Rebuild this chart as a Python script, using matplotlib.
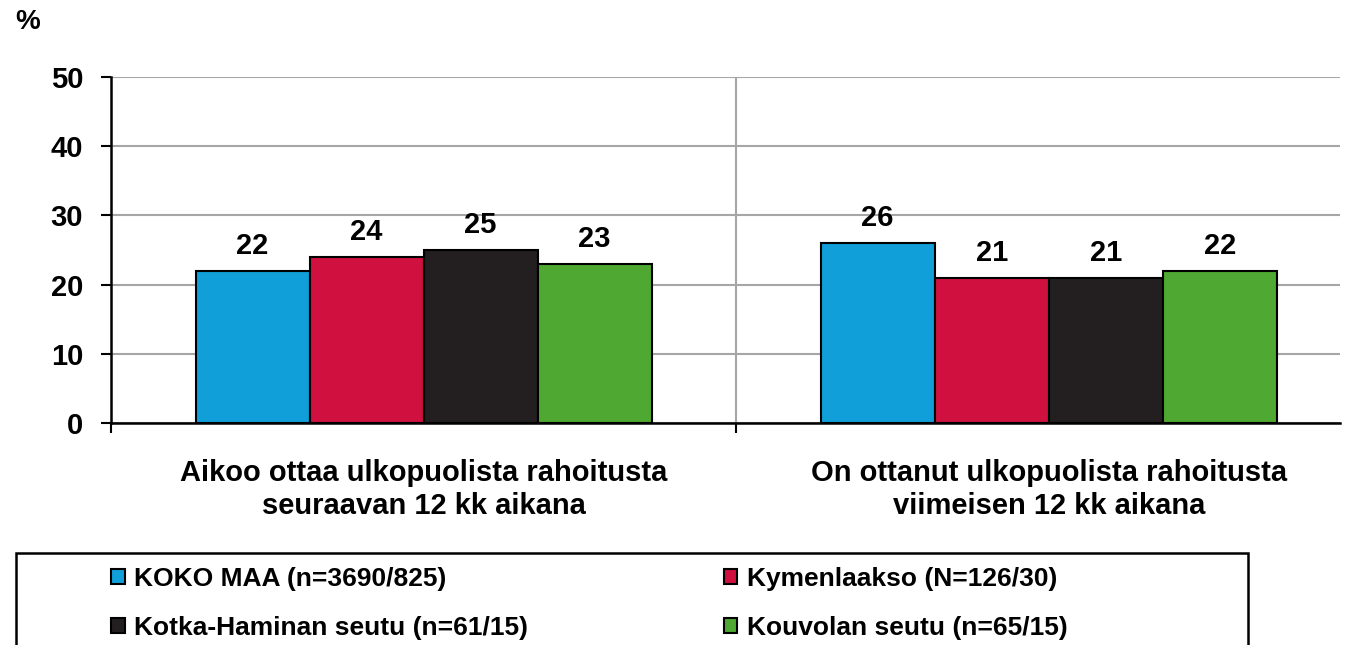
import matplotlib.pyplot as plt
import matplotlib.patches as mpatches
import numpy as np

plt.rcParams['font.family'] = ['Liberation Sans', 'DejaVu Sans']
plt.rcParams['font.weight'] = 'bold'

categories = ["Aikoo ottaa ulkopuolista rahoitusta\nseuraavan 12 kk aikana",
              "On ottanut ulkopuolista rahoitusta\nviimeisen 12 kk aikana"]
series = ["KOKO MAA (n=3690/825)", "Kymenlaakso (N=126/30)",
          "Kotka-Haminan seutu (n=61/15)", "Kouvolan seutu (n=65/15)"]
values = [[22, 26], [24, 21], [25, 21], [23, 22]]
colors = ["#109FD8", "#D0103F", "#231F20", "#4EA832"]
yticks = [0, 10, 20, 30, 40, 50]

W, H = 1346, 645
fig = plt.figure(figsize=(W / 100, H / 100), dpi=100)
ax = fig.add_axes([111 / W, 1 - 423 / H, (1340 - 111) / W, (423 - 77) / H])

x = np.arange(len(categories))
bw = 0.1824
handles = []
for i, (name, vals) in enumerate(zip(series, values)):
    pos = x + (i - 1.5) * bw
    bars = ax.bar(pos, vals, width=bw, color=colors[i], edgecolor='black',
                  linewidth=1.5, zorder=3, label=name)
    ax.bar_label(bars, labels=[str(v) for v in vals], padding=8,
                 fontsize=21, fontweight='bold')
    handles.append(mpatches.Patch(facecolor=colors[i], edgecolor='black',
                                  linewidth=1.5, label=name))

ax.set_xlim(-0.5, 1.466)
ax.set_ylim(0, 50)
ax.set_yticks(yticks)
ax.set_yticklabels([str(t) for t in yticks], fontsize=21, fontweight='bold')
ax.tick_params(axis='y', direction='out', length=7, width=1.5, pad=13)
ax.yaxis.grid(True, color='#A6A6A6', linewidth=1.5, zorder=0)

ax.set_xticks(x)
ax.set_xticklabels(categories, fontsize=21, fontweight='bold', linespacing=1.22)
ax.set_xticks([-0.5, 0.5], minor=True)
ax.tick_params(axis='x', which='major', length=0, pad=26)
ax.tick_params(axis='x', which='minor', direction='out', length=7, width=1.5)
ax.xaxis.grid(True, which='minor', color='#A6A6A6', linewidth=1.5, zorder=0)

for s in ['top', 'right']:
    ax.spines[s].set_visible(False)
for s in ['left', 'bottom']:
    ax.spines[s].set_linewidth(1.8)
    ax.spines[s].set_zorder(4)

fig.text(15 / W, 1 - 22 / H, "%", fontsize=20, fontweight='bold', va='center')

# legend frame (runs off the bottom of the image)
fig.patches.append(mpatches.Rectangle((16 / W, -0.1), (1248 - 16) / W, 0.1 + 1 - 553 / H,
                                      transform=fig.transFigure, fill=False,
                                      edgecolor='black', linewidth=1.8))
# row-wise order: KOKO MAA, Kymenlaakso / Kotka-Haminan, Kouvolan
order = [0, 2, 1, 3]
fig.legend(handles=[handles[k] for k in order], loc='upper left',
           bbox_to_anchor=(111 / W, 1 - 567 / H),
           ncol=2, frameon=False, borderpad=0, borderaxespad=0,
           handlelength=0.53, handleheight=0.53, handletextpad=0.35,
           columnspacing=7.4, labelspacing=0.94,
           prop={'weight': 'bold', 'size': 19})

fig.savefig("out.png", dpi=100)
